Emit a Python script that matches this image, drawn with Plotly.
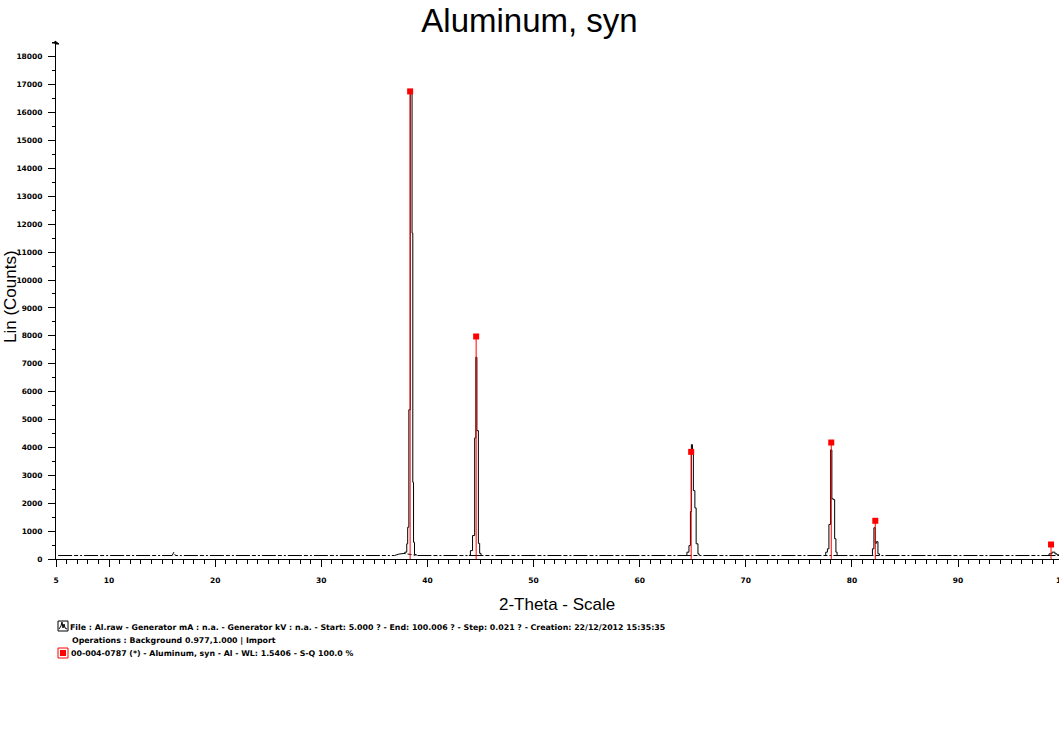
import plotly.graph_objects as go

bg_2theta = [5.2, 15.95, 16.1, 16.25, 36.9, 37.3, 37.8, 39.0, 99.6]
bg_counts = [125, 125, 245, 125, 125, 175, 200, 125, 125]

peak1_2theta = [37.80, 37.87, 38.05, 38.14, 38.25, 38.38, 38.55, 38.62, 38.69, 38.78, 38.95]
peak1_counts = [200, 245, 545, 1140, 5350, 16700, 11680, 2750, 600, 160, 125]

peak2_2theta = [43.90, 44.05, 44.25, 44.45, 44.56, 44.66, 44.80, 44.92, 45.05]
peak2_counts = [130, 300, 840, 4340, 7230, 4600, 560, 200, 125]

peak3_2theta = [64.40, 64.45, 64.64, 64.78, 64.87, 64.97, 65.06, 65.20, 65.32, 65.49, 65.60]
peak3_counts = [125, 245, 480, 1700, 4100, 3770, 2450, 1830, 545, 185, 125]

peak4_2theta = [77.45, 77.53, 77.69, 77.83, 77.99, 78.11, 78.24, 78.37, 78.49, 78.60]
peak4_counts = [125, 245, 365, 1240, 3910, 2160, 2130, 725, 245, 125]

peak5_2theta = [81.85, 81.93, 82.07, 82.20, 82.30, 82.45, 82.60]
peak5_counts = [125, 365, 1120, 560, 620, 185, 125]

peak6_2theta = [98.50, 98.57, 98.85, 99.13, 99.32, 99.60]
peak6_counts = [125, 185, 245, 185, 150, 140]

# reference pattern 00-004-0787 (red sticks)
card_2theta = [38.37, 44.59, 64.85, 78.05, 82.20, 98.76]
card_counts = [16760, 7975, 3840, 4175, 1370, 520]

x_ticks = [5, 10, 20, 30, 40, 50, 60, 70, 80, 90]
y_ticks = list(range(0, 19000, 1000))

title = "Aluminum, syn"
x_title = "2-Theta - Scale"
y_title = "Lin (Counts)"
info_lines = [
    "File : Al.raw - Generator mA : n.a. - Generator kV : n.a. - Start: 5.000 ? - End: 100.006 ? - Step: 0.021 ? - Creation: 22/12/2012 15:35:35",
    "Operations : Background 0.977,1.000 | Import",
    "00-004-0787 (*) - Aluminum, syn - Al - WL: 1.5406 - S-Q 100.0 %",
]

W, H = 1059, 729
L, R, T, B = 56, 0, 41, 170
XMAX = 99.51
YMAX = 18566


def px(x):
    return (x - L) / (W - L - R)


def py(y):
    return (H - B - y) / (H - T - B)


fig = go.Figure()

fig.add_trace(go.Scatter(x=bg_2theta, y=bg_counts, mode="lines",
                         line=dict(color="black", width=1, dash="14px,2px,4px,2px,2px,2px"),
                         hoverinfo="skip"))

peaks = [(peak1_2theta, peak1_counts), (peak2_2theta, peak2_counts),
         (peak3_2theta, peak3_counts), (peak4_2theta, peak4_counts),
         (peak5_2theta, peak5_counts), (peak6_2theta, peak6_counts)]
for xs, ys in peaks:
    fig.add_trace(go.Scatter(x=xs, y=ys, mode="lines", line_shape="hv",
                             line=dict(color="black", width=1)))

stick_x, stick_y = [], []
for x, y in zip(card_2theta, card_counts):
    stick_x += [x, x, None]
    stick_y += [0, y, None]
fig.add_trace(go.Scatter(x=stick_x, y=stick_y, mode="lines",
                         line=dict(color="#ff0000", width=1)))
fig.add_trace(go.Scatter(x=card_2theta, y=card_counts, mode="markers",
                         marker=dict(symbol="square", size=6, color="#ff0000",
                                     line=dict(width=0))))

tick_font = dict(family="DejaVu Sans", size=7.5, color="black", weight="bold")

fig.update_layout(
    width=W, height=H,
    margin=dict(l=L, r=R, t=T, b=B),
    paper_bgcolor="white", plot_bgcolor="white",
    showlegend=False,
    title=dict(text=title, x=0.5, xanchor="center", y=1 - 20 / H, yanchor="middle",
               font=dict(family="Liberation Sans", size=33, color="black")),
    xaxis=dict(range=[5, XMAX], showline=True, linecolor="black", linewidth=1,
               ticks="outside", ticklen=7, tickwidth=1, tickcolor="black",
               tickmode="array", tickvals=x_ticks, ticktext=[str(v) for v in x_ticks],
               tickfont=tick_font, ticklabelstandoff=7,
               minor=dict(ticks="outside", dtick=1, tick0=0, ticklen=4, tickcolor="black"),
               showgrid=False, zeroline=False, automargin=False),
    yaxis=dict(range=[0, YMAX], showline=True, linecolor="black", linewidth=1,
               ticks="outside", ticklen=7, tickwidth=1, tickcolor="black",
               tickmode="array", tickvals=y_ticks, ticktext=[str(v) for v in y_ticks],
               tickfont=tick_font, ticklabelstandoff=4,
               minor=dict(ticks="outside", dtick=500, tick0=0, ticklen=3.5, tickcolor="black"),
               showgrid=False, zeroline=False, automargin=False),
)

ann = []
# truncated 100 label at the right edge
ann.append(dict(text="100", xref="paper", yref="paper", x=(100 - 5) / (XMAX - 5),
                y=py(580), xanchor="center", yanchor="middle", showarrow=False,
                font=tick_font))
ann.append(dict(text=x_title, xref="paper", yref="paper", x=px(557), y=py(604),
                xanchor="center", yanchor="middle", showarrow=False,
                font=dict(family="Liberation Sans", size=17, color="black")))
ann.append(dict(text=y_title, xref="paper", yref="paper", x=px(10), y=py(297),
                xanchor="center", yanchor="middle", textangle=-90, showarrow=False,
                font=dict(family="Liberation Sans", size=17, color="black")))
info_font = dict(family="DejaVu Sans", size=7.85, color="black", weight="bold")
for txt, yy, xx in zip(info_lines, [627, 640, 653], [68, 70, 69]):
    ann.append(dict(text=txt, xref="paper", yref="paper", x=px(xx), y=py(yy),
                    xanchor="left", yanchor="middle", showarrow=False, font=info_font))
fig.update_layout(annotations=ann)

shapes = []
# arrow flag at the top of the y axis
shapes.append(dict(type="path", xref="paper", yref="paper",
                   path=f"M {px(55)},{py(41)} L {px(59)},{py(44)} L {px(55)},{py(44)} Z",
                   fillcolor="black", line=dict(color="black", width=1)))
shapes.append(dict(type="line", xref="paper", yref="paper",
                   x0=px(52), x1=px(55), y0=py(43), y1=py(43),
                   line=dict(color="black", width=1)))
shapes.append(dict(type="line", xref="paper", yref="paper",
                   x0=px(55.5), x1=px(55.5), y0=py(44), y1=py(41),
                   line=dict(color="black", width=1)))
# scan icon
shapes.append(dict(type="rect", xref="paper", yref="paper",
                   x0=px(58), x1=px(68), y0=py(631), y1=py(621),
                   line=dict(color="black", width=1), fillcolor="white"))
shapes.append(dict(type="path", xref="paper", yref="paper",
                   path=(f"M {px(59)},{py(629)} L {px(61)},{py(626)} L {px(62)},{py(622)}"
                         f" L {px(63)},{py(628)} L {px(64)},{py(624)} L {px(65)},{py(628)}"
                         f" L {px(67)},{py(629)}"),
                   line=dict(color="black", width=1)))
# card icon
shapes.append(dict(type="rect", xref="paper", yref="paper",
                   x0=px(58), x1=px(68), y0=py(658), y1=py(648),
                   line=dict(color="#ff0000", width=1), fillcolor="white"))
shapes.append(dict(type="rect", xref="paper", yref="paper",
                   x0=px(60), x1=px(66), y0=py(656), y1=py(650),
                   line=dict(width=0), fillcolor="#ff0000"))
fig.update_layout(shapes=shapes)

# no default page margin, so the figure sits at the window's corner
fig.write_html("out.html", config={"displayModeBar": False},
               post_script="document.body.style.margin='0';document.body.style.overflow='hidden';")
